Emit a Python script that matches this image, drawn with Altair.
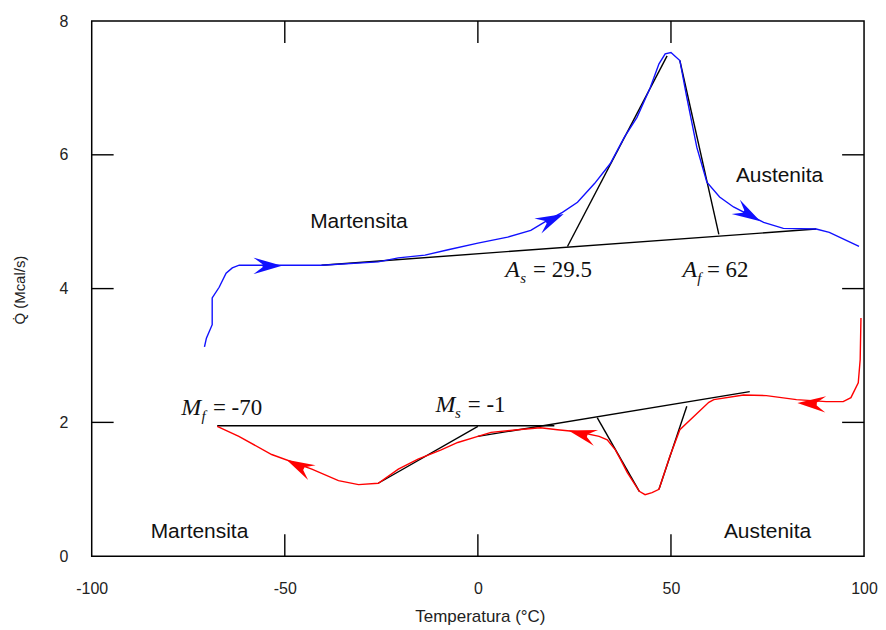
import altair as alt
import pandas as pd

# Heating curve (blue)
heat_T = [-70.8, -70.3, -68.8, -68.8, -67.0, -65.2, -63.6, -61.8, -40.5, -25.8, -20.6, -13.7, -7.7, 0.0, 7.7,
          13.7, 18.0, 21.9, 25.8, 30.2, 34.3, 37.9, 41.2, 44.6, 46.9, 48.5, 50.0, 52.3, 54.1, 56.7, 59.3,
          62.6, 66.2, 74.0, 79.1, 87.6, 91.0, 98.7]
heat_Q = [3.13, 3.26, 3.46, 3.86, 4.02, 4.23, 4.31, 4.35, 4.35, 4.40, 4.46, 4.50, 4.58, 4.68, 4.77,
          4.87, 5.02, 5.14, 5.29, 5.57, 5.87, 6.26, 6.56, 7.00, 7.36, 7.51, 7.53, 7.41, 6.86, 6.11, 5.59,
          5.37, 5.22, 4.99, 4.90, 4.89, 4.84, 4.63]

# Cooling curve (red), in order of decreasing temperature
cool_T = [99.2, 99.0, 98.5, 96.6, 94.6, 90.2, 82.5, 74.7, 68.8, 61.1, 59.8, 52.3, 49.7, 46.9, 45.1,
          43.3, 41.8, 38.7, 36.9, 35.6, 33.5, 31.4, 25.8, 20.6, 16.2, 10.3, 3.4, 0.0, -5.2, -9.5,
          -15.5, -20.6, -25.8, -30.9, -36.1, -43.0, -53.4, -61.9, -67.5]
cool_Q = [3.56, 2.94, 2.59, 2.37, 2.31, 2.31, 2.34, 2.40, 2.41, 2.34, 2.30, 1.89, 1.49, 1.00, 0.95,
          0.92, 0.97, 1.25, 1.45, 1.59, 1.74, 1.79, 1.86, 1.89, 1.92, 1.89, 1.85, 1.79, 1.70, 1.59,
          1.45, 1.30, 1.09, 1.07, 1.13, 1.30, 1.52, 1.79, 1.94]

# Construction (tangent / baseline) segments
seg_T1 = [-40.5, 23.2, 52.3, -67.5, 0.0, -25.8, 30.9, 54.1]
seg_Q1 = [4.35, 4.63, 7.41, 1.95, 1.79, 1.09, 2.07, 2.24]
seg_T2 = [87.6, 49.0, 62.4, 19.8, 70.4, 0.0, 41.8, 46.9]
seg_Q2 = [4.89, 7.48, 4.81, 1.95, 2.46, 1.94, 0.97, 1.00]

# Direction arrows
arrow_T = [-54.6, 18.7, 69.8, -46.1, 27.2, 86.6]
arrow_Q = [4.34, 5.02, 5.12, 1.34, 1.82, 2.28]
arrow_angle = [0, 335, 30, 207, 195, 183]
arrow_series = ["heat", "heat", "heat", "cool", "cool", "cool"]

# Phase labels
phase_text = ["Martensita", "Austenita", "Martensita", "Austenita"]
phase_T = [-30.8, 78.1, -72.1, 75.0]
phase_Q = [4.99, 5.68, 0.36, 0.36]

# Transformation temperature labels (letter, subscript, value)
tr_letter = ["A", "A", "M", "M"]
tr_sub = ["s", "f", "f", "s"]
tr_value = ["= 29.5", "= 62", "= -70", "= -1"]
tr_T = [7.1, 53.0, -76.8, -11.0]
tr_sub_T = [11.0, 56.8, -71.6, -5.9]
tr_val_T = [14.3, 59.3, -68.6, -2.6]
tr_Q = [4.28, 4.28, 2.22, 2.26]
tr_sub_Q = [4.16, 4.16, 2.10, 2.14]

x_ticks = [-100, -50, 0, 50, 100]
y_ticks = [0, 2, 4, 6, 8]
x_inner = [-50, 0, 50]
y_inner = [2, 4, 6]

W, H = 775, 537
xs = alt.Scale(domain=[-100, 100], nice=False, zero=False)
ys = alt.Scale(domain=[0, 8], nice=False, zero=False)
xaxis = alt.Axis(values=x_ticks, title=None, labelFlush=False, labelPadding=24, labelOverlap=False,
                 labelExpr="'' + datum.value")
yaxis = alt.Axis(values=y_ticks, title=None, labelPadding=24, labelOverlap=False)


def X(f):
    return alt.X(f, type="quantitative", scale=xs, axis=xaxis)


def Y(f):
    return alt.Y(f, type="quantitative", scale=ys, axis=yaxis)


heat_df = pd.DataFrame({"T": heat_T, "Q": heat_Q, "i": range(len(heat_T))})
cool_df = pd.DataFrame({"T": cool_T, "Q": cool_Q, "i": range(len(cool_T))})
seg_df = pd.DataFrame({"T": seg_T1, "Q": seg_Q1, "T2": seg_T2, "Q2": seg_Q2})
arr_df = pd.DataFrame({"T": arrow_T, "Q": arrow_Q, "ang": arrow_angle, "s": arrow_series})
phase_df = pd.DataFrame({"T": phase_T, "Q": phase_Q, "txt": phase_text})
tr_df = pd.DataFrame({"T": tr_T, "Q": tr_Q, "txt": tr_letter})
trs_df = pd.DataFrame({"T": tr_sub_T, "Q": tr_sub_Q, "txt": tr_sub})
trv_df = pd.DataFrame({"T": tr_val_T, "Q": tr_Q, "txt": tr_value})

heat = alt.Chart(heat_df).mark_line(color="#1010ff", strokeWidth=1.4).encode(
    x=X("T"), y=Y("Q"), order="i:Q")
cool = alt.Chart(cool_df).mark_line(color="#ff0000", strokeWidth=1.4).encode(
    x=X("T"), y=Y("Q"), order="i:Q")
segs = alt.Chart(seg_df).mark_rule(color="#000000", strokeWidth=1.4).encode(
    x=X("T"), y=Y("Q"), x2="T2", y2="Q2")

arrow_path = "M1,0 L-0.9,-0.55 L-0.3,-0.1 L-0.3,0.1 L-0.9,0.55 Z"
arrows = alt.Chart(arr_df).mark_point(shape=arrow_path, filled=True, size=900, opacity=1).encode(
    x=X("T"), y=Y("Q"), angle=alt.Angle("ang:Q", scale=None),
    color=alt.Color("s:N", scale=alt.Scale(domain=["heat", "cool"], range=["#1010ff", "#ff0000"]), legend=None))

phases = alt.Chart(phase_df).mark_text(font="Liberation Sans", fontSize=21, color="#111", align="center",
                                       baseline="middle").encode(x=X("T"), y=Y("Q"), text="txt:N")
tr_main = alt.Chart(tr_df).mark_text(font="Liberation Serif", fontSize=24, fontStyle="italic", color="#111",
                                     align="left", baseline="middle").encode(x=X("T"), y=Y("Q"), text="txt:N")
tr_subs = alt.Chart(trs_df).mark_text(font="Liberation Serif", fontSize=15, fontStyle="italic", color="#111",
                                      align="left", baseline="middle").encode(x=X("T"), y=Y("Q"), text="txt:N")
tr_vals = alt.Chart(trv_df).mark_text(font="Liberation Serif", fontSize=23, color="#111",
                                      align="left", baseline="middle").encode(x=X("T"), y=Y("Q"), text="txt:N")

xt_df = pd.DataFrame({"T": x_inner})
yt_df = pd.DataFrame({"Q": y_inner})
tick_bottom = alt.Chart(xt_df).mark_rule(color="#000", strokeWidth=1.4).encode(
    x=X("T"), y=alt.value(H), y2=alt.value(H - 22))
tick_top = alt.Chart(xt_df).mark_rule(color="#000", strokeWidth=1.4).encode(
    x=X("T"), y=alt.value(0), y2=alt.value(22))
tick_left = alt.Chart(yt_df).mark_rule(color="#000", strokeWidth=1.4).encode(
    y=Y("Q"), x=alt.value(0), x2=alt.value(22))
tick_right = alt.Chart(yt_df).mark_rule(color="#000", strokeWidth=1.4).encode(
    y=Y("Q"), x=alt.value(W), x2=alt.value(W - 22))

title_df = pd.DataFrame({"t": ["Temperatura (°C)", "Q\u0307 (Mcal/s)"]})
xtitle = alt.Chart(title_df).transform_filter("datum.t[0] == 'T'").mark_text(
    font="Liberation Sans", fontSize=17, color="#222", align="center", baseline="middle").encode(
    text="t:N", x=alt.value(390), y=alt.value(598))
ytitle = alt.Chart(title_df).transform_filter("datum.t[0] == 'Q'").mark_text(
    font="Liberation Sans", fontSize=15, color="#222", align="center", baseline="middle", angle=270).encode(
    text="t:N", x=alt.value(-72), y=alt.value(270))

chart = alt.layer(
    segs, heat, cool, arrows, phases, tr_main, tr_subs, tr_vals,
    tick_bottom, tick_top, tick_left, tick_right, xtitle, ytitle
).properties(
    width=W, height=H,
    autosize=alt.AutoSizeParams(type="none"),
    padding={"left": 84, "top": 12, "right": 14, "bottom": 70},
).configure_view(
    stroke="#000", strokeWidth=1.5
).configure_axis(
    domain=False, grid=False, ticks=False,
    labelFont="Liberation Sans", labelFontSize=16, labelColor="#222"
)

chart.save("out.html", embed_options={"renderer": "svg", "actions": False})
